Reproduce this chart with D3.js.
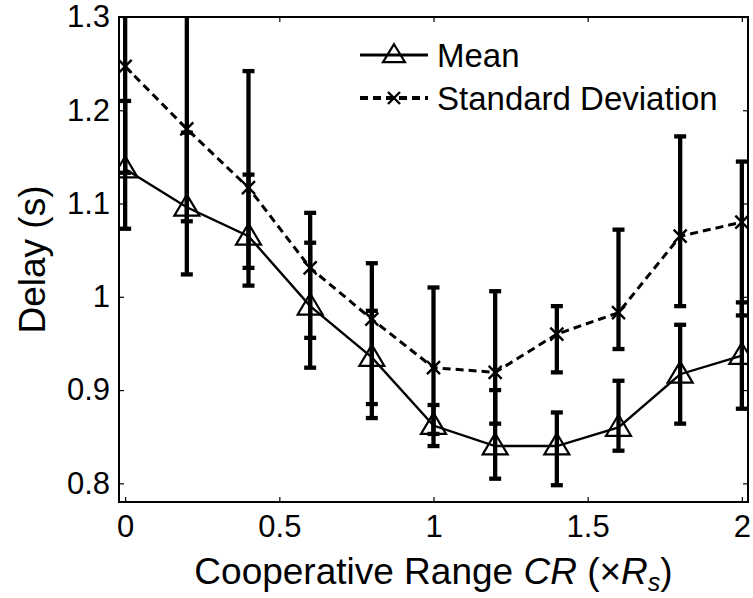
<!DOCTYPE html>
<html><head><meta charset="utf-8">
<script src="https://cdn.jsdelivr.net/npm/d3@7"></script>
<style>
html,body{margin:0;padding:0;background:#fff;}
svg{display:block;font-family:"Liberation Sans",Arial,Helvetica,sans-serif;}
</style>
</head><body>
<div id="chart"></div>
<script>
// ---- data ----
const crValues = [0, 0.2, 0.4, 0.6, 0.8, 1.0, 1.2, 1.4, 1.6, 1.8, 2.0];
const meanVals = [1.137, 1.096, 1.065, 0.990, 0.935, 0.862, 0.840, 0.840, 0.860, 0.917, 0.937];
const meanLow  = [1.073, 1.024, 1.012, 0.924, 0.885, 0.840, 0.805, 0.798, 0.835, 0.864, 0.880];
const meanHigh = [1.210, 1.176, 1.131, 1.058, 0.985, 0.884, 0.900, 0.876, 0.910, 0.970, 0.994];
const sdVals   = [1.247, 1.180, 1.117, 1.031, 0.976, 0.924, 0.919, 0.960, 0.983, 1.065, 1.080];
const sdLow    = [1.133, 1.081, 1.031, 0.956, 0.870, 0.853, 0.864, 0.919, 0.944, 0.990, 0.980];
const sdHigh   = [1.360, 1.360, 1.242, 1.090, 1.036, 1.010, 1.006, 0.990, 1.072, 1.172, 1.145];
const xTicks = [0, 0.5, 1, 1.5, 2];
const xTickLabels = ["0", "0.5", "1", "1.5", "2"];
const yTicks = [0.8, 0.9, 1.0, 1.1, 1.2, 1.3];
const yTickLabels = ["0.8", "0.9", "1", "1.1", "1.2", "1.3"];
const seriesNames = ["Mean", "Standard Deviation"];

// ---- layout ----
const W = 753, H = 598;
const m = {left: 119, right: 5, top: 17, bottom: 96};
const iw = W - m.left - m.right, ih = H - m.top - m.bottom;

const svg = d3.select("#chart").append("svg").attr("width", W).attr("height", H);
const x = d3.scaleLinear().domain([-0.02, 2.02]).range([0, iw]);
const y = d3.scaleLinear().domain([0.78, 1.3]).range([ih, 0]);

svg.append("defs").append("clipPath").attr("id", "clip")
  .append("rect").attr("x", 0).attr("y", 0).attr("width", iw).attr("height", ih);

const g = svg.append("g").attr("transform", `translate(${m.left},${m.top})`);
const plot = g.append("g").attr("clip-path", "url(#clip)");

const meanData = crValues.map((c, i) => ({x: c, v: meanVals[i], lo: meanLow[i], hi: meanHigh[i]}));
const sdData = crValues.map((c, i) => ({x: c, v: sdVals[i], lo: sdLow[i], hi: sdHigh[i]}));

function errorBars(data) {
  const eb = plot.append("g").attr("stroke", "#000").attr("stroke-width", 4.3).attr("fill", "none");
  data.forEach(d => {
    const cx = x(d.x);
    eb.append("line").attr("x1", cx).attr("x2", cx).attr("y1", y(d.lo)).attr("y2", y(d.hi));
    eb.append("line").attr("x1", cx - 6).attr("x2", cx + 6).attr("y1", y(d.lo)).attr("y2", y(d.lo));
    eb.append("line").attr("x1", cx - 6).attr("x2", cx + 6).attr("y1", y(d.hi)).attr("y2", y(d.hi));
  });
}
errorBars(meanData);
errorBars(sdData);

const line = d3.line().x(d => x(d.x)).y(d => y(d.v));
plot.append("path").datum(meanData).attr("d", line)
  .attr("fill", "none").attr("stroke", "#000").attr("stroke-width", 2.4);
plot.append("path").datum(sdData).attr("d", line)
  .attr("fill", "none").attr("stroke", "#000").attr("stroke-width", 3).attr("stroke-dasharray", "8,5");

function triangle(sel, cx, cy, w, h) {
  sel.append("path")
    .attr("d", `M${cx},${cy - h * 0.6} L${cx + w / 2},${cy + h * 0.4} L${cx - w / 2},${cy + h * 0.4} Z`)
    .attr("fill", "none").attr("stroke", "#000").attr("stroke-width", 2.2);
}
function cross(sel, cx, cy, s) {
  sel.append("path")
    .attr("d", `M${cx - s},${cy - s} L${cx + s},${cy + s} M${cx - s},${cy + s} L${cx + s},${cy - s}`)
    .attr("fill", "none").attr("stroke", "#000").attr("stroke-width", 2.4);
}
meanData.forEach(d => triangle(plot, x(d.x), y(d.v), 25, 21));
sdData.forEach(d => cross(plot, x(d.x), y(d.v), 6.5));

// ---- axes (box with inward ticks) ----
const axisW = 2;
g.append("rect").attr("x", 0).attr("y", 0).attr("width", iw).attr("height", ih)
  .attr("fill", "none").attr("stroke", "#000").attr("stroke-width", axisW);

const tl = 5;
const xAxisB = d3.axisBottom(x).tickValues(xTicks).tickSizeInner(-tl).tickSizeOuter(0)
  .tickFormat((d, i) => xTickLabels[i]).tickPadding(13);
const xb = g.append("g").attr("transform", `translate(0,${ih})`).call(xAxisB);
const xAxisT = d3.axisTop(x).tickValues(xTicks).tickSizeInner(-tl).tickSizeOuter(0).tickFormat("");
const xt = g.append("g").call(xAxisT);
const yAxisL = d3.axisLeft(y).tickValues(yTicks).tickSizeInner(-tl).tickSizeOuter(0)
  .tickFormat((d, i) => yTickLabels[i]).tickPadding(9);
const yl = g.append("g").call(yAxisL);
const yAxisR = d3.axisRight(y).tickValues(yTicks).tickSizeInner(-tl).tickSizeOuter(0).tickFormat("");
const yr = g.append("g").attr("transform", `translate(${iw},0)`).call(yAxisR);
[xb, xt, yl, yr].forEach(a => {
  a.select(".domain").remove();
  a.selectAll(".tick line").attr("stroke", "#000").attr("stroke-width", 1.2);
  a.selectAll(".tick text").attr("fill", "#000").attr("font-size", 31)
    .attr("font-family", "Liberation Sans, Arial, sans-serif");
});
xb.selectAll(".tick text").attr("dy", "0.71em");

// ---- labels ----
const xl = svg.append("text").attr("x", m.left + iw / 2).attr("y", 584)
  .attr("text-anchor", "middle").attr("font-size", 37).attr("fill", "#000");
xl.append("tspan").text("Cooperative Range ");
xl.append("tspan").attr("font-style", "italic").text("CR");
xl.append("tspan").text(" (×");
xl.append("tspan").attr("font-style", "italic").text("R");
xl.append("tspan").attr("font-style", "italic").attr("font-size", 25).attr("dy", 7).text("s");
xl.append("tspan").attr("dy", -7).text(")");

svg.append("text").attr("transform", `translate(45,${m.top + ih / 2}) rotate(-90)`)
  .attr("text-anchor", "middle").attr("font-size", 37).attr("fill", "#000").text("Delay (s)");

// ---- legend ----
const lg = svg.append("g");
const legY = [55, 98];
lg.append("line").attr("x1", 360).attr("x2", 428).attr("y1", legY[0]).attr("y2", legY[0])
  .attr("stroke", "#000").attr("stroke-width", 3);
triangle(lg, 394, legY[0], 22, 18);
lg.append("line").attr("x1", 360).attr("x2", 428).attr("y1", legY[1]).attr("y2", legY[1])
  .attr("stroke", "#000").attr("stroke-width", 4).attr("stroke-dasharray", "8,5");
cross(lg, 394, legY[1], 6);
seriesNames.forEach((s, i) => {
  lg.append("text").attr("x", 437).attr("y", legY[i] + 12).attr("font-size", 33)
    .attr("fill", "#000").text(s);
});
</script>
</body></html>
